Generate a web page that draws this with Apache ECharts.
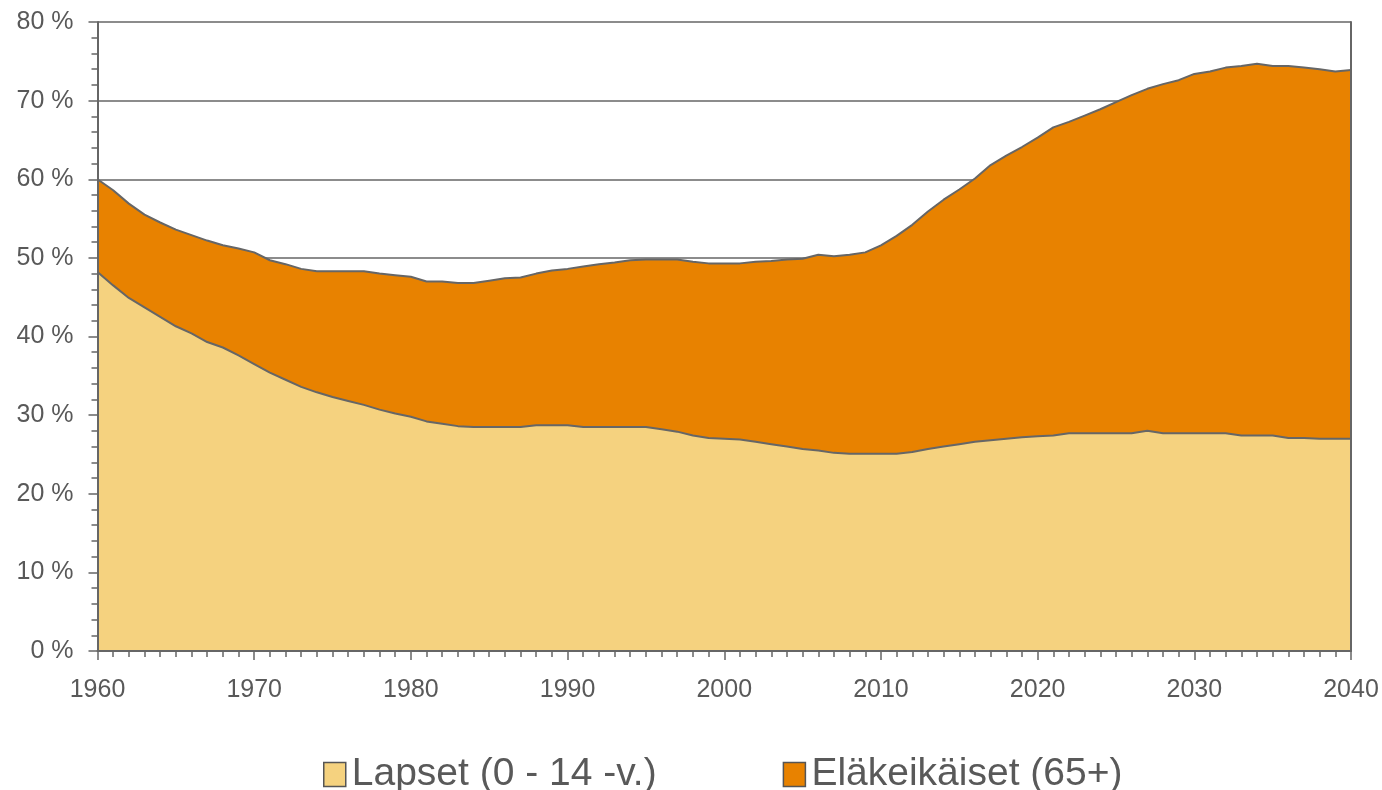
<!DOCTYPE html>
<html>
<head>
<meta charset="utf-8">
<script src="https://cdn.jsdelivr.net/npm/echarts@6/dist/echarts.min.js"></script>
<style>
  html, body { margin: 0; padding: 0; background: #fff; }
  #main { width: 1382px; height: 790px; }
</style>
</head>
<body>
<div id="main"></div>
<script>
// vuodet 1960-2040
var years = [];
for (var y = 1960; y <= 2040; y++) years.push(String(y));

// Lapset (0-14 v.), % työikäisistä
var lapset = [
  48.2, 46.5, 44.9, 43.7, 42.5, 41.3, 40.4, 39.3, 38.6, 37.6,
  36.5, 35.4, 34.5, 33.6, 32.9, 32.3, 31.8, 31.3, 30.7, 30.2,
  29.8, 29.2, 28.9, 28.6, 28.5, 28.5, 28.5, 28.5, 28.7, 28.7,
  28.7, 28.5, 28.5, 28.5, 28.5, 28.5, 28.2, 27.9, 27.4, 27.1,
  27.0, 26.9, 26.6, 26.3, 26.0, 25.7, 25.5, 25.2, 25.1, 25.1,
  25.1, 25.1, 25.3, 25.7, 26.0, 26.3, 26.6, 26.8, 27.0, 27.2,
  27.3, 27.4, 27.7, 27.7, 27.7, 27.7, 27.7, 28.0, 27.7, 27.7,
  27.7, 27.7, 27.7, 27.4, 27.4, 27.4, 27.1, 27.1, 27.0, 27.0,
  27.0
];

// Eläkeikäiset (65+), pinottuna lasten päälle
var elakeikaiset = [
  11.8, 12.1, 12.0, 11.8, 12.0, 12.3, 12.5, 12.9, 13.0, 13.6,
  14.2, 14.3, 14.7, 15.0, 15.4, 16.0, 16.5, 17.0, 17.3, 17.6,
  17.8, 17.8, 18.1, 18.2, 18.3, 18.6, 18.9, 19.0, 19.3, 19.7,
  19.9, 20.4, 20.7, 20.9, 21.2, 21.3, 21.6, 21.9, 22.1, 22.2,
  22.3, 22.4, 22.9, 23.3, 23.8, 24.2, 24.9, 25.0, 25.3, 25.6,
  26.5, 27.7, 28.9, 30.2, 31.4, 32.4, 33.5, 35.0, 36.0, 36.9,
  38.0, 39.2, 39.6, 40.4, 41.2, 42.1, 43.0, 43.5, 44.4, 44.9,
  45.7, 46.0, 46.5, 47.0, 47.3, 47.0, 47.3, 47.1, 47.0, 46.7,
  46.9
];

var seriesNames = ['Lapset (0 - 14 -v.)', 'Eläkeikäiset (65+)'];
var seriesColors = ['#F5D27F', '#E88200'];

var axisGray = '#666666';
var textGray = '#595959';
var font = '"Liberation Sans", Arial, sans-serif';

var chart = echarts.init(document.getElementById('main'));
chart.setOption({
  animation: false,
  backgroundColor: '#fff',
  grid: { left: 97.5, right: 31, top: 22, bottom: 139 },
  legend: {
    data: seriesNames,
    left: 318,
    top: 750,
    icon: 'rect',
    itemWidth: 22,
    itemHeight: 24,
    itemGap: 126,
    itemStyle: { borderColor: '#555', borderWidth: 1.5 },
    textStyle: { fontSize: 39, color: textGray, fontFamily: font, padding: [0, 0, 0, 1] }
  },
  xAxis: [
    {
      type: 'category',
      data: years,
      boundaryGap: false,
      z: 10,
      axisLine: { show: true, lineStyle: { color: axisGray, width: 2 } },
      axisTick: { show: true, interval: 0, length: 6, lineStyle: { color: axisGray, width: 1.5 } },
      splitLine: { show: false },
      axisLabel: { interval: 9, fontSize: 25, color: textGray, fontFamily: font, margin: 27 }
    },
    {
      type: 'category',
      data: years,
      boundaryGap: false,
      position: 'bottom',
      z: 10,
      axisLine: { show: false },
      axisTick: { show: true, interval: 9, length: 9, lineStyle: { color: axisGray, width: 1.5 } },
      axisLabel: { show: false },
      splitLine: { show: false }
    }
  ],
  yAxis: [
    {
      type: 'value',
      min: 0,
      max: 80,
      interval: 10,
      z: 10,
      axisLine: { show: true, lineStyle: { color: axisGray, width: 2 } },
      axisTick: { show: true, length: 9, lineStyle: { color: axisGray, width: 1.5 } },
      minorTick: { show: true, splitNumber: 5, length: 6, lineStyle: { color: axisGray, width: 1.5 } },
      splitLine: { show: false },
      axisLabel: { fontSize: 25, color: textGray, fontFamily: font, margin: 24, formatter: '{value} %' }
    },
    {
      type: 'value',
      min: 0,
      max: 80,
      interval: 10,
      position: 'right',
      z: 10,
      axisLine: { show: true, lineStyle: { color: axisGray, width: 2 } },
      axisTick: { show: false },
      axisLabel: { show: false },
      splitLine: { show: false }
    },
    {
      type: 'value',
      min: 0,
      max: 80,
      interval: 10,
      position: 'left',
      z: 0,
      axisLine: { show: false },
      axisTick: { show: false },
      axisLabel: { show: false },
      splitLine: { show: true, lineStyle: { color: axisGray, width: 1.5 } }
    }
  ],
  series: [
    {
      name: seriesNames[0],
      type: 'line',
      stack: 'total',
      data: lapset,
      showSymbol: false,
      color: seriesColors[0],
      lineStyle: { color: axisGray, width: 2 },
      areaStyle: { color: seriesColors[0], opacity: 1 }
    },
    {
      name: seriesNames[1],
      type: 'line',
      stack: 'total',
      data: elakeikaiset,
      showSymbol: false,
      color: seriesColors[1],
      lineStyle: { color: axisGray, width: 2 },
      areaStyle: { color: seriesColors[1], opacity: 1 }
    }
  ]
});
</script>
</body>
</html>
